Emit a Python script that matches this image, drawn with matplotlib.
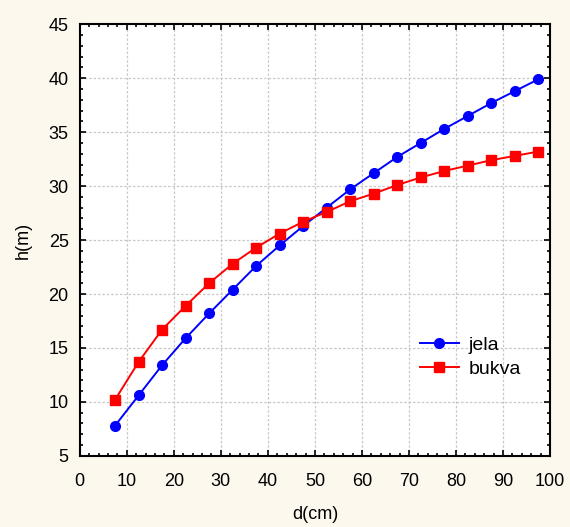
import numpy as np
import matplotlib.pyplot as plt
from matplotlib.ticker import MultipleLocator

d = [7.5, 12.5, 17.5, 22.5, 27.5, 32.5, 37.5, 42.5, 47.5, 52.5,
     57.5, 62.5, 67.5, 72.5, 77.5, 82.5, 87.5, 92.5, 97.5]
jela = [7.8, 10.6, 13.4, 15.9, 18.2, 20.4, 22.6, 24.5, 26.3, 28.0,
        29.7, 31.2, 32.7, 34.0, 35.3, 36.5, 37.7, 38.8, 39.9]
bukva = [10.2, 13.7, 16.7, 18.9, 21.0, 22.8, 24.3, 25.6, 26.7, 27.6,
         28.6, 29.3, 30.1, 30.8, 31.4, 31.9, 32.4, 32.8, 33.2]

plt.rcParams['font.family'] = ['Liberation Sans', 'DejaVu Sans']

fig = plt.figure(figsize=(5.7, 5.27), dpi=100, facecolor='#fdf8ee')
ax = fig.add_axes([0.140, 0.135, 0.825, 0.819])
ax.set_facecolor('white')

ax.plot(d, jela, color='#0000ff', marker='o', markersize=7, linewidth=1.4, label='jela')
ax.plot(d, bukva, color='#ff0000', marker='s', markersize=6.5, linewidth=1.4, label='bukva')

ax.set_xlim(0, 100)
ax.set_ylim(5, 45)
ax.xaxis.set_major_locator(MultipleLocator(10))
ax.xaxis.set_minor_locator(MultipleLocator(2))
ax.yaxis.set_major_locator(MultipleLocator(5))
ax.yaxis.set_minor_locator(MultipleLocator(1))
ax.tick_params(which='both', direction='in', top=True, right=True, labelsize=13, width=1.2)
ax.tick_params(which='major', length=4)
ax.tick_params(which='minor', length=2.5)
ax.tick_params(axis='x', which='major', pad=12)
ax.tick_params(axis='y', which='major', pad=8)
for s in ax.spines.values():
    s.set_linewidth(1.5)

ax.grid(True, which='major', color='#c8c8c8', linestyle=(0, (2, 1.5)), linewidth=0.9)
ax.set_axisbelow(True)

ax.set_xlabel('d(cm)', fontsize=13, labelpad=12)
ax.set_ylabel('h(m)', fontsize=13, labelpad=12)

ax.legend(loc='lower right', bbox_to_anchor=(0.975, 0.14), frameon=False,
          fontsize=14, handlelength=2.0, handletextpad=0.5, labelspacing=0.35)

fig.savefig('out.png', dpi=100, facecolor=fig.get_facecolor())
